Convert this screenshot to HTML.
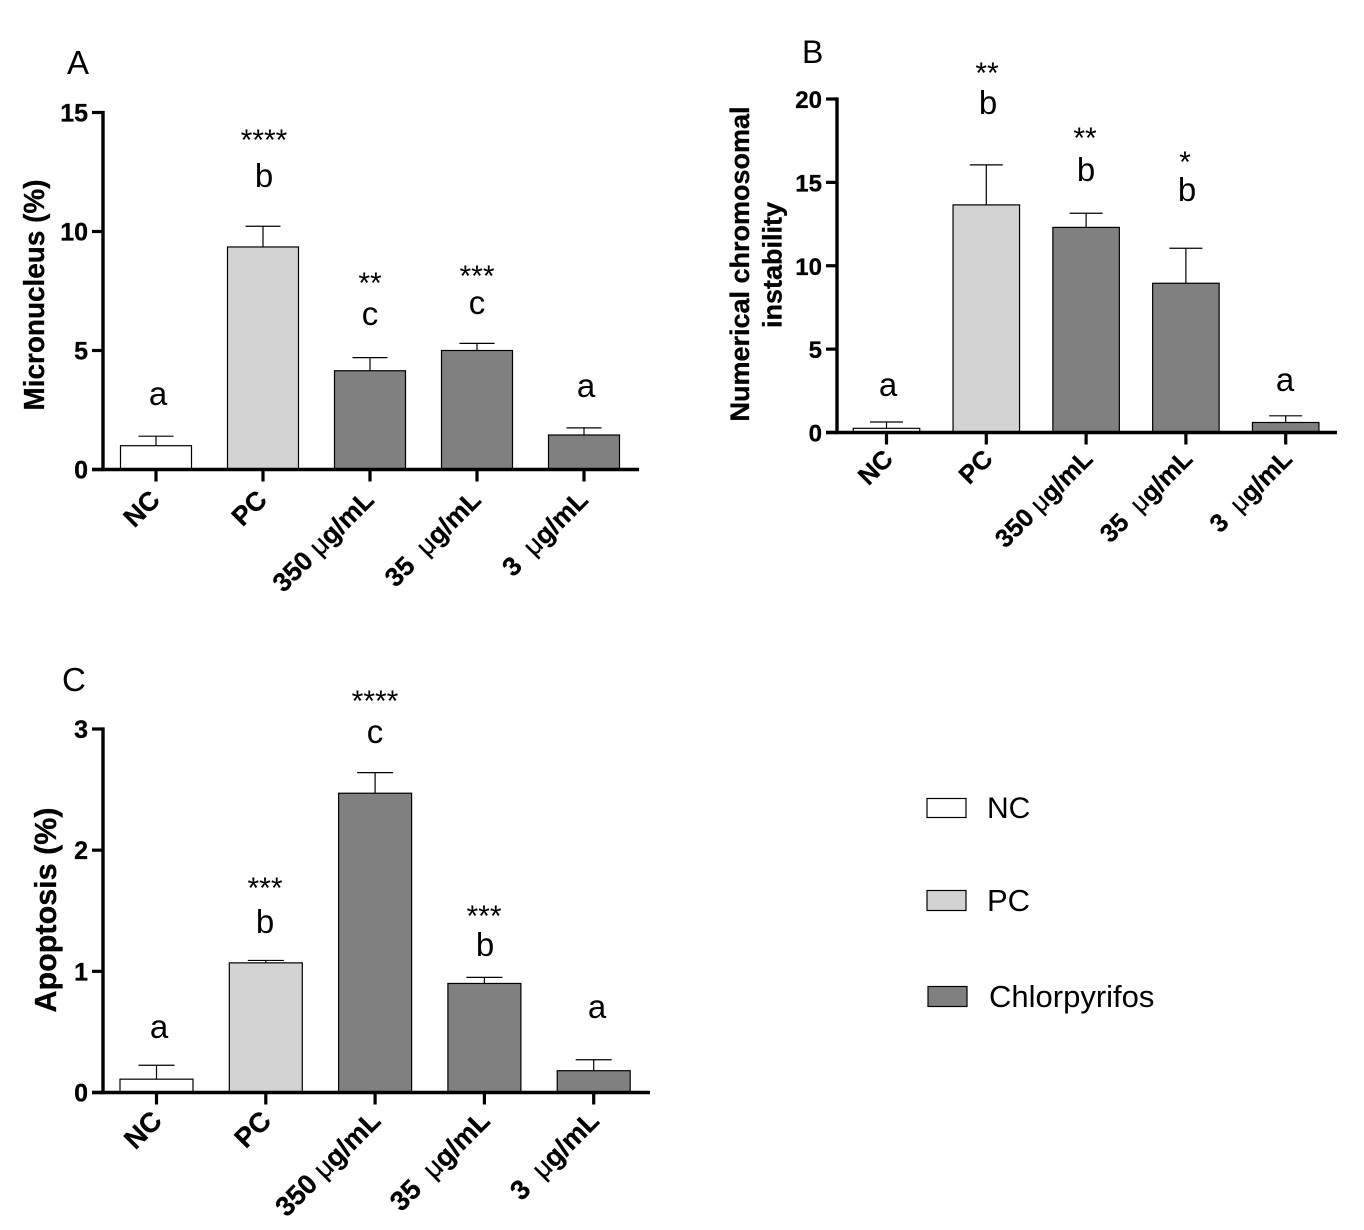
<!DOCTYPE html>
<html>
<head>
<meta charset="utf-8">
<style>
html,body{margin:0;padding:0;background:#fff;}
svg{display:block;}
text{font-family:"Liberation Sans",sans-serif;fill:#000;}
.panel{font-size:33px;}
.let{font-size:33px;text-anchor:middle;}
.star{font-size:30px;text-anchor:middle;}
.tick{font-size:25px;font-weight:bold;text-anchor:end;stroke:#000;stroke-width:0.3px;}
.cat{font-weight:bold;text-anchor:end;white-space:pre;stroke:#000;stroke-width:0.3px;}
.title{font-size:29px;font-weight:bold;text-anchor:middle;stroke:#000;stroke-width:0.3px;}
.leg{font-size:30px;}
</style>
</head>
<body>
<svg id="fig" width="1364" height="1230" viewBox="0 0 1364 1230" xmlns="http://www.w3.org/2000/svg">
  <rect x="0" y="0" width="1364" height="1230" fill="#fff"/>

  <text class="panel" x="67" y="74">A</text>
  <text class="panel" x="802" y="63" style="font-size:32px">B</text>
  <text class="panel" x="62" y="691">C</text>

  <g id="panelA"></g>
  <g id="panelB"></g>
  <g id="panelC"></g>

  <text class="title" textLength="231" lengthAdjust="spacingAndGlyphs" transform="translate(44 295) rotate(-90)">Micronucleus (%)</text>
  <text class="title" style="font-size:27px" transform="translate(749 264) rotate(-90)">Numerical chromosomal</text>
  <text class="title" style="font-size:27px" transform="translate(781.5 265) rotate(-90)">instability</text>
  <text class="title" style="font-size:30.5px" transform="translate(56 910) rotate(-90)">Apoptosis (%)</text>

  <g>
    <text class="let" x="158" y="405">a</text>
    <text class="star" x="264" y="150">****</text>
    <text class="let" x="264" y="187">b</text>
    <text class="star" x="370" y="293">**</text>
    <text class="let" x="370" y="325">c</text>
    <text class="star" x="477" y="286">***</text>
    <text class="let" x="477" y="314">c</text>
    <text class="let" x="586" y="397">a</text>
  </g>
  <g>
    <text class="let" x="888" y="396">a</text>
    <text class="star" x="987" y="83">**</text>
    <text class="let" x="988" y="114">b</text>
    <text class="star" x="1085" y="148">**</text>
    <text class="let" x="1086" y="181">b</text>
    <text class="star" x="1185" y="172">*</text>
    <text class="let" x="1187" y="201">b</text>
    <text class="let" x="1285" y="391">a</text>
  </g>
  <g>
    <text class="let" x="159" y="1038">a</text>
    <text class="star" x="265" y="898">***</text>
    <text class="let" x="265" y="933">b</text>
    <text class="star" x="375" y="711">****</text>
    <text class="let" x="375" y="743">c</text>
    <text class="star" x="484" y="926">***</text>
    <text class="let" x="485" y="956">b</text>
    <text class="let" x="597" y="1018">a</text>
  </g>

  <g>
    <rect x="927" y="798.5" width="39" height="19" fill="#fff" stroke="#000" stroke-width="1.2"/>
    <text class="leg" x="987" y="818">NC</text>
    <rect x="927" y="890.5" width="39" height="20" fill="#d3d3d3" stroke="#000" stroke-width="1.2"/>
    <text class="leg" x="987" y="911" style="font-size:31px">PC</text>
    <rect x="928" y="986.5" width="39" height="20" fill="#808080" stroke="#000" stroke-width="1.2"/>
    <text class="leg" x="989" y="1007" style="font-size:31px">Chlorpyrifos</text>
  </g>
</svg>

<script>
var categories = ['NC', 'PC', '350 |g/mL', '35  |g/mL', '3  |g/mL'];
var barTypes = ['nc', 'pc', 'cpf', 'cpf', 'cpf'];

var aValues = [1.0, 9.35, 4.15, 5.0, 1.45];
var aErrors = [0.4, 0.87, 0.55, 0.3, 0.3];
var aTicks = [0, 5, 10, 15];

var bValues = [0.25, 13.65, 12.3, 8.95, 0.6];
var bErrors = [0.38, 2.4, 0.85, 2.1, 0.4];
var bTicks = [0, 5, 10, 15, 20];

var cValues = [0.11, 1.07, 2.47, 0.9, 0.18];
var cErrors = [0.115, 0.02, 0.17, 0.05, 0.09];
var cTicks = [0, 1, 2, 3];

var fills = {nc: '#ffffff', pc: '#d3d3d3', cpf: '#808080'};
var NS = 'http://www.w3.org/2000/svg';

function add(parent, tag, attrs) {
  var el = document.createElementNS(NS, tag);
  for (var k in attrs) { el.setAttribute(k, attrs[k]); }
  parent.appendChild(el);
  return el;
}

function drawPanel(root, prefix, values, errors, ticks, L) {
  function yScale(v) { return L.y0 - (v - ticks[0]) / (ticks[ticks.length - 1] - ticks[0]) * (L.y0 - L.yTop); }
  function xScale(i) { return L.x0 + i * L.band; }

  values.forEach(function (v, i) {
    var cx = xScale(i);
    var top = yScale(v);
    var errTop = yScale(v + errors[i]);

    var stem = add(root, 'line', {x1: cx, x2: cx, y1: top, y2: errTop, stroke: '#000', 'stroke-width': 1.2});
    
    

    var cap = add(root, 'line', {x1: cx - L.cap / 2, x2: cx + L.cap / 2, y1: errTop, y2: errTop, stroke: '#000', 'stroke-width': 1.2});
    
    

    var bar = add(root, 'rect', {x: cx - L.barW / 2, y: top, width: L.barW, height: L.y0 - top, fill: fills[barTypes[i]], stroke: '#000', 'stroke-width': 1.2});
    
    

    var tick = add(root, 'line', {x1: cx, x2: cx, y1: L.y0, y2: L.y0 + 12, stroke: '#000', 'stroke-width': 3.2});
    
    

    var parts = categories[i].split('|');
    var t = add(root, 'text', {'class': 'cat', 'font-size': L.catSize, transform: 'translate(' + (cx + L.catDx) + ' ' + (L.y0 + L.catDy) + ') rotate(-45)'});
    
    
    t.setAttribute('xml:space', 'preserve');
    if (parts.length === 2) {
      var s1 = add(t, 'tspan', {});
      s1.textContent = parts[0];
      var mu = add(t, 'tspan', {'font-weight': 'normal'});
      mu.textContent = '\u03bc';
      var s2 = add(t, 'tspan', {});
      s2.textContent = parts[1];
    } else {
      t.textContent = categories[i];
    }
  });

  ticks.forEach(function (v, i) {
    var y = yScale(v);
    var tick = add(root, 'line', {x1: L.axisX - 11, x2: L.axisX, y1: y, y2: y, stroke: '#000', 'stroke-width': 3.2});
    
    

    var lab = add(root, 'text', {'class': 'tick', x: L.axisX - 15, y: y + 9, style: 'font-size:' + L.tickSize + 'px'});
    
    
    lab.textContent = v;
  });

  var yAxis = add(root, 'line', {x1: L.axisX, x2: L.axisX, y1: L.yTop - 1.6, y2: L.y0 + 1.6, stroke: '#000', 'stroke-width': 3.4});
  
  

  var xAxis = add(root, 'line', {x1: L.axisX - 11, x2: L.xEnd, y1: L.y0, y2: L.y0, stroke: '#000', 'stroke-width': 3.4});
  
  
}

drawPanel(document.getElementById('panelA'), 'a', aValues, aErrors, aTicks,
  {axisX: 103, y0: 469.5, yTop: 112.5, x0: 156, band: 107, barW: 71, cap: 35, xEnd: 639, catDx: 5.5, catDy: 32, catSize: 26.5, tickSize: 25});
drawPanel(document.getElementById('panelB'), 'b', bValues, bErrors, bTicks,
  {axisX: 837, y0: 432.5, yTop: 99, x0: 886.5, band: 99.8, barW: 66.5, cap: 33, xEnd: 1337, catDx: 8, catDy: 28, catSize: 25.5, tickSize: 24});
drawPanel(document.getElementById('panelC'), 'c', cValues, cErrors, cTicks,
  {axisX: 103, y0: 1092.5, yTop: 729, x0: 156.5, band: 109.3, barW: 73, cap: 36, xEnd: 650, catDx: 7, catDy: 30, catSize: 27.5, tickSize: 25});
</script>
</body>
</html>
